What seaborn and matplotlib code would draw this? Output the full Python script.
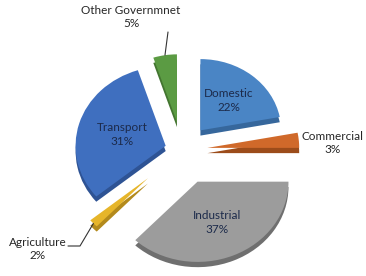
import matplotlib
matplotlib.use("Agg")
import matplotlib.pyplot as plt
from matplotlib.patches import Wedge
import numpy as np
import seaborn as sns

# data, clockwise from 12 o'clock
sectors = ["Domestic", "Commercial", "Industrial", "Agriculture", "Transport", "Other Governmnet"]
shares = [22, 3, 37, 2, 31, 5]

colors = ["#4a85c5", "#d0692a", "#9c9c9c", "#e6b52a", "#3f6fbf", "#5b9b43"]
sides = ["#36679c", "#9c4c1a", "#6f6f6f", "#b38a1c", "#2e5394", "#437530"]
explode = [0.34, 0.30, 0.46, 0.55, 0.20, 0.38]
radius_scale = [0.95, 1.08, 1.07, 0.88, 1.06, 0.9]

sns.set_theme(style="white")
plt.rcParams["font.family"] = ["Lato", "DejaVu Sans"]

fig = plt.figure(figsize=(3.66, 2.76), dpi=100)
ax = fig.add_axes([0, 0, 1, 1])

wedges, _ = ax.pie(shares, explode=explode, startangle=90, counterclock=False,
                   colors=colors, wedgeprops=dict(linewidth=0))

# pixel scale: 85 px per unit across, 75 px per unit down (tilted look)
ax.set_aspect("auto")
ax.set_xlim(-182 / 85, 184 / 85)
ax.set_ylim(-126 / 75, 150 / 75)
ax.axis("off")

# depth band under each slice
for w, s, side in zip(wedges, radius_scale, sides):
    w.set_radius(w.r * s)
    w.set_zorder(3)
    band = Wedge((w.center[0], w.center[1] - 0.07), w.r, w.theta1, w.theta2,
                 facecolor=side, linewidth=0, zorder=2)
    ax.add_patch(band)


def mid_point(w, frac):
    ang = np.deg2rad((w.theta1 + w.theta2) / 2)
    return (w.center[0] + frac * w.r * np.cos(ang),
            w.center[1] + frac * w.r * np.sin(ang))


def px(x, y):
    return ((x - 182) / 85, (150 - y) / 75)


inner = {0: 0.55, 2: 0.55, 4: 0.5}
for i, frac in inner.items():
    x, y = mid_point(wedges[i], frac)
    ax.text(x, y, f"{sectors[i]}\n{shares[i]}%", ha="center", va="center",
            fontsize=8.5, color="#1c2a4a", linespacing=1.3, zorder=5)

outer = {1: (333, 143), 5: (131, 17), 3: (38, 249)}
for i, pos in outer.items():
    tx, ty = px(*pos)
    ax.text(tx, ty, f"{sectors[i]}\n{shares[i]}%", ha="center", va="center",
            fontsize=8.5, color="#262626", linespacing=1.3, zorder=5)

# leader lines
x0, y0 = mid_point(wedges[5], 1.0)
ax.plot([x0, px(168, 32)[0]], [y0, px(168, 32)[1]], color="#333333", lw=0.8, zorder=4)
x0, y0 = mid_point(wedges[3], 1.0)
ax.plot([x0, px(80, 246)[0], px(68, 246)[0]], [y0, px(80, 246)[1], px(68, 246)[1]],
        color="#333333", lw=0.8, zorder=4)

fig.savefig("out.png", dpi=100)
